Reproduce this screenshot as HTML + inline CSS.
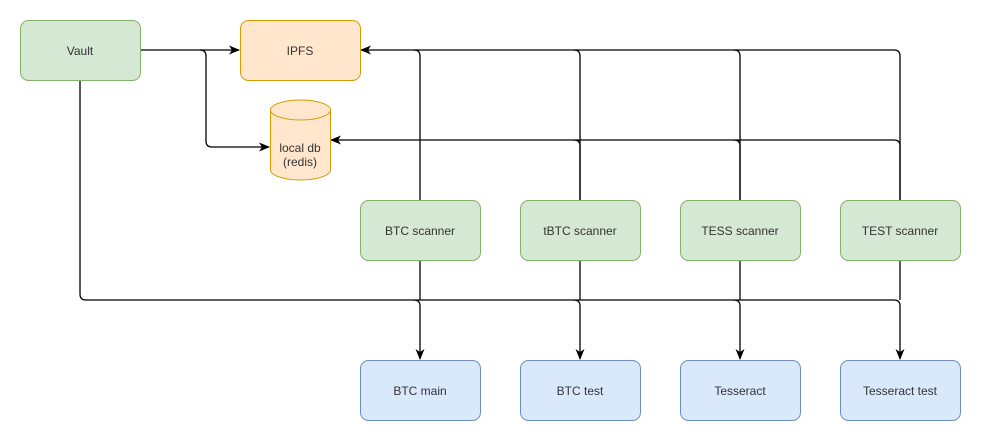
<!DOCTYPE html>
<html><head><style>
body{margin:0;background:#fff}
svg text{font-family:"Liberation Sans",Arial,sans-serif;font-size:12px;fill:#333;text-anchor:middle}
</style></head><body>
<svg width="981" height="441" viewBox="0 0 981 441" xmlns="http://www.w3.org/2000/svg">
<defs><marker id="a" markerWidth="12" markerHeight="12" refX="10" refY="6" orient="auto" markerUnits="userSpaceOnUse"><path d="M0,1.5 L11,6 L0,10.5 L3,6z" fill="#000"/></marker></defs>
<g fill="none" stroke="#000" stroke-width="1.3">
<path d="M140,50 H239" marker-end="url(#a)"/>
<path d="M200,50 Q206,50 206,56 V141 Q206,147 212,147 H269" marker-end="url(#a)"/>
<path d="M80,80 V294 Q80,300 86,300 H894 Q900,300 900,306 V359" marker-end="url(#a)"/>
<path d="M414,300 Q420,300 420,306 V359" marker-end="url(#a)"/>
<path d="M574,300 Q580,300 580,306 V359" marker-end="url(#a)"/>
<path d="M734,300 Q740,300 740,306 V359" marker-end="url(#a)"/>
<path d="M900,200 V56 Q900,50 894,50 H361" marker-end="url(#a)"/>
<path d="M420,200 V56 Q420,50 414,50"/>
<path d="M580,200 V56 Q580,50 574,50"/>
<path d="M740,200 V56 Q740,50 734,50"/>
<path d="M900,200 V146 Q900,140 894,140 H331" marker-end="url(#a)"/>
<path d="M580,200 V146 Q580,140 574,140"/>
<path d="M740,200 V146 Q740,140 734,140"/>
<path d="M420,260 V300"/><path d="M580,260 V300"/><path d="M740,260 V300"/><path d="M900,260 V300"/>
</g>
<rect x="20.5" y="20.5" width="120" height="60" rx="8" fill="#d5e8d4" stroke="#82b366"/>
<text x="80" y="55">Vault</text>
<rect x="240.5" y="20.5" width="120" height="60" rx="8" fill="#ffe6cc" stroke="#d79b00"/>
<text x="300" y="55">IPFS</text>
<path d="M270.5,110 A30,10 0 0 1 330.5,110 V170 A30,10 0 0 1 270.5,170 Z" fill="#ffe6cc" stroke="#d79b00"/>
<path d="M270.5,110 A30,10 0 0 0 330.5,110" fill="none" stroke="#d79b00"/>
<text x="300" y="152">local db</text><text x="300" y="166">(redis)</text>
<g fill="#d5e8d4" stroke="#82b366">
<rect x="360.5" y="200.5" width="120" height="60" rx="8"/><rect x="520.5" y="200.5" width="120" height="60" rx="8"/>
<rect x="680.5" y="200.5" width="120" height="60" rx="8"/><rect x="840.5" y="200.5" width="120" height="60" rx="8"/>
</g>
<text x="420" y="235">BTC scanner</text><text x="580" y="235">tBTC scanner</text>
<text x="740" y="235">TESS scanner</text><text x="900" y="235">TEST scanner</text>
<g fill="#dae8fc" stroke="#6c8ebf">
<rect x="360.5" y="360.5" width="120" height="60" rx="8"/><rect x="520.5" y="360.5" width="120" height="60" rx="8"/>
<rect x="680.5" y="360.5" width="120" height="60" rx="8"/><rect x="840.5" y="360.5" width="120" height="60" rx="8"/>
</g>
<text x="420" y="395">BTC main</text><text x="580" y="395">BTC test</text>
<text x="740" y="395">Tesseract</text><text x="900" y="395">Tesseract test</text>
</svg>
</body></html>
